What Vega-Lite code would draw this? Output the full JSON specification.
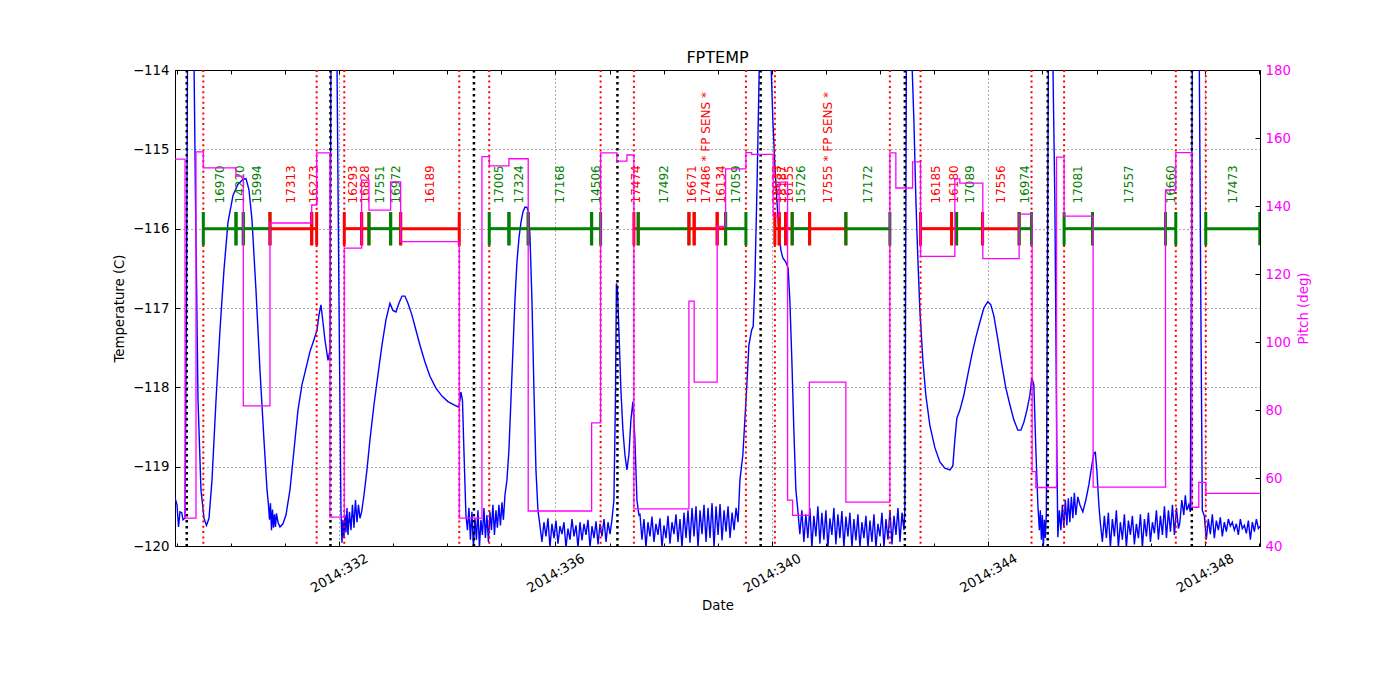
{
  "$schema": "https://vega.github.io/schema/vega-lite/v6.json",
  "width": 1085,
  "height": 476,
  "autosize": {"type": "none"},
  "padding": {"left": 175, "top": 70, "right": 140, "bottom": 154},
  "title": {"text": "FPTEMP", "fontSize": 16, "fontWeight": "normal", "font": "DejaVu Sans", "color": "black", "offset": -3},
  "datasets": {
    "temp": [
      {"t": 328.970, "temp": -119.39}, {"t": 329.007, "temp": -119.48}, {"t": 329.035, "temp": -119.76}, {"t": 329.062, "temp": -119.57},
      {"t": 329.094, "temp": -119.58}, {"t": 329.118, "temp": -119.67}, {"t": 329.155, "temp": -119.65}, {"t": 329.182, "temp": -116.90},
      {"t": 329.201, "temp": -113.87}, {"t": 329.265, "temp": -112.0}, {"t": 329.321, "temp": -113.87}, {"t": 329.349, "temp": -115.64},
      {"t": 329.395, "temp": -118.16}, {"t": 329.450, "temp": -119.29}, {"t": 329.506, "temp": -119.65}, {"t": 329.552, "temp": -119.74},
      {"t": 329.598, "temp": -119.65}, {"t": 329.654, "temp": -119.17}, {"t": 329.728, "temp": -118.16}, {"t": 329.801, "temp": -117.28},
      {"t": 329.875, "temp": -116.52}, {"t": 329.949, "temp": -115.92}, {"t": 330.042, "temp": -115.58}, {"t": 330.134, "temp": -115.44},
      {"t": 330.226, "temp": -115.38}, {"t": 330.282, "temp": -115.37}, {"t": 330.337, "temp": -115.51}, {"t": 330.393, "temp": -115.89},
      {"t": 330.466, "temp": -116.77}, {"t": 330.540, "temp": -117.78}, {"t": 330.614, "temp": -118.66}, {"t": 330.670, "temp": -119.29},
      {"t": 330.697, "temp": -119.48}, {"t": 330.716, "temp": -119.67}, {"t": 330.734, "temp": -119.46}, {"t": 330.753, "temp": -119.80},
      {"t": 330.771, "temp": -119.54}, {"t": 330.790, "temp": -119.77}, {"t": 330.808, "temp": -119.60}, {"t": 330.827, "temp": -119.76},
      {"t": 330.845, "temp": -119.59}, {"t": 330.873, "temp": -119.70}, {"t": 330.910, "temp": -119.76}, {"t": 330.965, "temp": -119.72},
      {"t": 331.021, "temp": -119.61}, {"t": 331.095, "temp": -119.29}, {"t": 331.169, "temp": -118.79}, {"t": 331.242, "temp": -118.29},
      {"t": 331.316, "temp": -117.97}, {"t": 331.390, "temp": -117.76}, {"t": 331.464, "temp": -117.55}, {"t": 331.538, "temp": -117.40},
      {"t": 331.594, "temp": -117.28}, {"t": 331.630, "temp": -117.09}, {"t": 331.667, "temp": -116.96}, {"t": 331.704, "temp": -117.18},
      {"t": 331.741, "temp": -117.40}, {"t": 331.797, "temp": -117.66}, {"t": 331.834, "temp": -117.53}, {"t": 331.852, "temp": -113.87},
      {"t": 331.900, "temp": -112.0}, {"t": 331.963, "temp": -113.87}, {"t": 332.000, "temp": -116.90}, {"t": 332.037, "temp": -119.55},
      {"t": 332.055, "temp": -119.96}, {"t": 332.074, "temp": -119.67}, {"t": 332.092, "temp": -119.90}, {"t": 332.111, "temp": -119.61},
      {"t": 332.129, "temp": -119.83}, {"t": 332.148, "temp": -119.52}, {"t": 332.166, "temp": -119.86}, {"t": 332.194, "temp": -119.57},
      {"t": 332.222, "temp": -119.80}, {"t": 332.249, "temp": -119.48}, {"t": 332.277, "temp": -119.77}, {"t": 332.305, "temp": -119.42},
      {"t": 332.333, "temp": -119.70}, {"t": 332.360, "temp": -119.48}, {"t": 332.388, "temp": -119.65}, {"t": 332.419, "temp": -119.57},
      {"t": 332.462, "temp": -119.36}, {"t": 332.517, "temp": -119.04}, {"t": 332.573, "temp": -118.66}, {"t": 332.647, "temp": -118.22},
      {"t": 332.721, "temp": -117.84}, {"t": 332.794, "temp": -117.47}, {"t": 332.868, "temp": -117.15}, {"t": 332.942, "temp": -116.94},
      {"t": 332.997, "temp": -117.03}, {"t": 333.053, "temp": -117.05}, {"t": 333.108, "temp": -116.94}, {"t": 333.164, "temp": -116.85},
      {"t": 333.219, "temp": -116.85}, {"t": 333.275, "temp": -116.94}, {"t": 333.349, "temp": -117.09}, {"t": 333.423, "temp": -117.28},
      {"t": 333.497, "temp": -117.47}, {"t": 333.589, "temp": -117.68}, {"t": 333.681, "temp": -117.86}, {"t": 333.792, "temp": -118.01},
      {"t": 333.903, "temp": -118.11}, {"t": 334.014, "temp": -118.18}, {"t": 334.125, "temp": -118.22}, {"t": 334.217, "temp": -118.25},
      {"t": 334.254, "temp": -118.06}, {"t": 334.282, "temp": -118.16}, {"t": 334.309, "temp": -118.79}, {"t": 334.346, "temp": -119.61},
      {"t": 334.374, "temp": -119.80}, {"t": 334.402, "temp": -119.52}, {"t": 334.429, "temp": -119.92}, {"t": 334.457, "temp": -119.57},
      {"t": 334.485, "temp": -120.02}, {"t": 334.513, "temp": -119.65}, {"t": 334.540, "temp": -119.92}, {"t": 334.568, "temp": -119.55},
      {"t": 334.596, "temp": -120.02}, {"t": 334.623, "temp": -119.67}, {"t": 334.651, "temp": -119.86}, {"t": 334.679, "temp": -119.52},
      {"t": 334.706, "temp": -119.90}, {"t": 334.734, "temp": -119.61}, {"t": 334.762, "temp": -119.95}, {"t": 334.790, "temp": -119.57},
      {"t": 334.817, "temp": -119.80}, {"t": 334.845, "temp": -119.48}, {"t": 334.873, "temp": -119.86}, {"t": 334.901, "temp": -119.55},
      {"t": 334.928, "temp": -119.77}, {"t": 334.956, "temp": -119.48}, {"t": 334.984, "temp": -119.74}, {"t": 335.012, "temp": -119.45},
      {"t": 335.039, "temp": -119.67}, {"t": 335.067, "temp": -119.36}, {"t": 335.104, "temp": -119.17}, {"t": 335.141, "temp": -118.79},
      {"t": 335.178, "temp": -118.16}, {"t": 335.215, "temp": -117.53}, {"t": 335.252, "temp": -116.90}, {"t": 335.289, "temp": -116.42},
      {"t": 335.326, "temp": -116.12}, {"t": 335.363, "temp": -115.92}, {"t": 335.400, "temp": -115.79}, {"t": 335.436, "temp": -115.73},
      {"t": 335.473, "temp": -115.73}, {"t": 335.501, "temp": -115.79}, {"t": 335.529, "temp": -116.08}, {"t": 335.566, "temp": -116.90},
      {"t": 335.603, "temp": -118.03}, {"t": 335.640, "temp": -119.04}, {"t": 335.677, "temp": -119.55}, {"t": 335.714, "temp": -119.74},
      {"t": 335.751, "temp": -119.95}, {"t": 335.788, "temp": -119.70}, {"t": 335.825, "temp": -119.88}, {"t": 335.862, "temp": -119.65},
      {"t": 335.899, "temp": -120.02}, {"t": 335.936, "temp": -119.72}, {"t": 335.973, "temp": -119.90}, {"t": 336.010, "temp": -119.68},
      {"t": 336.047, "temp": -119.97}, {"t": 336.084, "temp": -119.75}, {"t": 336.121, "temp": -119.85}, {"t": 336.158, "temp": -119.70},
      {"t": 336.195, "temp": -120.02}, {"t": 336.232, "temp": -119.78}, {"t": 336.269, "temp": -119.92}, {"t": 336.306, "temp": -119.66},
      {"t": 336.343, "temp": -119.88}, {"t": 336.380, "temp": -119.74}, {"t": 336.417, "temp": -120.02}, {"t": 336.454, "temp": -119.70},
      {"t": 336.491, "temp": -119.93}, {"t": 336.528, "temp": -119.72}, {"t": 336.565, "temp": -119.86}, {"t": 336.602, "temp": -119.67},
      {"t": 336.639, "temp": -120.02}, {"t": 336.676, "temp": -119.75}, {"t": 336.713, "temp": -119.90}, {"t": 336.750, "temp": -119.69},
      {"t": 336.787, "temp": -119.98}, {"t": 336.824, "temp": -119.72}, {"t": 336.861, "temp": -119.88}, {"t": 336.898, "temp": -119.66},
      {"t": 336.935, "temp": -119.95}, {"t": 336.972, "temp": -119.70}, {"t": 337.009, "temp": -119.85}, {"t": 337.044, "temp": -119.67},
      {"t": 337.081, "temp": -119.42}, {"t": 337.109, "temp": -118.16}, {"t": 337.127, "temp": -116.69}, {"t": 337.145, "temp": -116.75},
      {"t": 337.173, "temp": -117.28}, {"t": 337.210, "temp": -118.03}, {"t": 337.247, "temp": -118.54}, {"t": 337.284, "temp": -118.85},
      {"t": 337.321, "temp": -119.04}, {"t": 337.358, "temp": -118.85}, {"t": 337.395, "temp": -118.41}, {"t": 337.432, "temp": -118.18},
      {"t": 337.469, "temp": -118.66}, {"t": 337.506, "temp": -119.42}, {"t": 337.543, "temp": -119.61},
      {"t": 337.562, "temp": -119.60}, {"t": 337.599, "temp": -119.92}, {"t": 337.636, "temp": -119.66}, {"t": 337.673, "temp": -120.02},
      {"t": 337.710, "temp": -119.70}, {"t": 337.747, "temp": -119.88}, {"t": 337.784, "temp": -119.63}, {"t": 337.821, "temp": -119.95},
      {"t": 337.858, "temp": -119.72}, {"t": 337.895, "temp": -119.86}, {"t": 337.932, "temp": -119.65}, {"t": 337.969, "temp": -120.02},
      {"t": 338.006, "temp": -119.74}, {"t": 338.043, "temp": -119.90}, {"t": 338.080, "temp": -119.62}, {"t": 338.117, "temp": -119.97},
      {"t": 338.154, "temp": -119.70}, {"t": 338.191, "temp": -119.85}, {"t": 338.228, "temp": -119.60}, {"t": 338.265, "temp": -119.95},
      {"t": 338.302, "temp": -119.66}, {"t": 338.339, "temp": -120.02}, {"t": 338.376, "temp": -119.58}, {"t": 338.413, "temp": -119.90},
      {"t": 338.450, "temp": -119.55}, {"t": 338.487, "temp": -119.96}, {"t": 338.524, "temp": -119.52}, {"t": 338.561, "temp": -119.88},
      {"t": 338.598, "temp": -119.50}, {"t": 338.635, "temp": -120.02}, {"t": 338.672, "temp": -119.55}, {"t": 338.709, "temp": -119.85},
      {"t": 338.746, "temp": -119.48}, {"t": 338.783, "temp": -119.95}, {"t": 338.820, "temp": -119.52}, {"t": 338.857, "temp": -119.90},
      {"t": 338.894, "temp": -119.46}, {"t": 338.931, "temp": -120.02}, {"t": 338.968, "temp": -119.50}, {"t": 339.005, "temp": -119.86},
      {"t": 339.042, "temp": -119.47}, {"t": 339.079, "temp": -119.93}, {"t": 339.116, "temp": -119.55}, {"t": 339.153, "temp": -119.82},
      {"t": 339.190, "temp": -119.50}, {"t": 339.227, "temp": -119.90}, {"t": 339.264, "temp": -119.58}, {"t": 339.301, "temp": -119.80},
      {"t": 339.338, "temp": -119.52}, {"t": 339.375, "temp": -119.70},
      {"t": 339.409, "temp": -119.17}, {"t": 339.464, "temp": -118.85}, {"t": 339.533, "temp": -118.02}, {"t": 339.575, "temp": -117.47},
      {"t": 339.625, "temp": -117.28}, {"t": 339.655, "temp": -117.23}, {"t": 339.686, "temp": -116.65}, {"t": 339.718, "temp": -115.69},
      {"t": 339.742, "temp": -114.88}, {"t": 339.769, "temp": -113.87}, {"t": 339.870, "temp": -112.0}, {"t": 339.982, "temp": -113.87},
      {"t": 340.018, "temp": -114.63}, {"t": 340.055, "temp": -115.20}, {"t": 340.092, "temp": -115.64}, {"t": 340.129, "temp": -116.02},
      {"t": 340.166, "temp": -116.27}, {"t": 340.203, "temp": -116.37}, {"t": 340.258, "temp": -116.42}, {"t": 340.300, "temp": -116.50},
      {"t": 340.332, "temp": -116.90}, {"t": 340.369, "temp": -117.66}, {"t": 340.406, "temp": -118.54}, {"t": 340.443, "temp": -119.29},
      {"t": 340.480, "temp": -119.55},
      {"t": 340.517, "temp": -119.85}, {"t": 340.554, "temp": -119.55}, {"t": 340.591, "temp": -119.95}, {"t": 340.628, "temp": -119.60},
      {"t": 340.665, "temp": -119.90}, {"t": 340.702, "temp": -119.52}, {"t": 340.739, "temp": -120.02}, {"t": 340.776, "temp": -119.62},
      {"t": 340.813, "temp": -119.88}, {"t": 340.850, "temp": -119.50}, {"t": 340.887, "temp": -119.97}, {"t": 340.924, "temp": -119.58},
      {"t": 340.961, "temp": -119.92}, {"t": 340.998, "temp": -119.55}, {"t": 341.035, "temp": -120.02}, {"t": 341.072, "temp": -119.65},
      {"t": 341.109, "temp": -119.86}, {"t": 341.146, "temp": -119.52}, {"t": 341.183, "temp": -119.98}, {"t": 341.220, "temp": -119.60},
      {"t": 341.257, "temp": -119.90}, {"t": 341.294, "temp": -119.56}, {"t": 341.331, "temp": -120.02}, {"t": 341.368, "temp": -119.63},
      {"t": 341.405, "temp": -119.88}, {"t": 341.442, "temp": -119.58}, {"t": 341.479, "temp": -120.02}, {"t": 341.516, "temp": -119.66},
      {"t": 341.553, "temp": -119.93}, {"t": 341.590, "temp": -119.60}, {"t": 341.627, "temp": -120.02}, {"t": 341.664, "temp": -119.70},
      {"t": 341.701, "temp": -119.90}, {"t": 341.738, "temp": -119.62}, {"t": 341.775, "temp": -120.02}, {"t": 341.812, "temp": -119.68},
      {"t": 341.849, "temp": -119.95}, {"t": 341.886, "temp": -119.60}, {"t": 341.923, "temp": -120.02}, {"t": 341.960, "temp": -119.72},
      {"t": 341.997, "temp": -119.88}, {"t": 342.034, "temp": -119.58}, {"t": 342.071, "temp": -120.02}, {"t": 342.108, "temp": -119.66},
      {"t": 342.145, "temp": -119.92}, {"t": 342.182, "temp": -119.55}, {"t": 342.219, "temp": -119.98}, {"t": 342.256, "temp": -119.62},
      {"t": 342.293, "temp": -119.86}, {"t": 342.330, "temp": -119.52}, {"t": 342.367, "temp": -119.95}, {"t": 342.404, "temp": -119.58},
      {"t": 342.441, "temp": -119.80},
      {"t": 342.457, "temp": -119.55}, {"t": 342.485, "temp": -113.87}, {"t": 342.530, "temp": -112.0}, {"t": 342.587, "temp": -113.87},
      {"t": 342.624, "temp": -114.63}, {"t": 342.661, "temp": -115.64}, {"t": 342.698, "temp": -116.39}, {"t": 342.735, "temp": -117.03},
      {"t": 342.790, "temp": -117.66}, {"t": 342.845, "temp": -118.10}, {"t": 342.919, "temp": -118.48}, {"t": 343.012, "temp": -118.76},
      {"t": 343.104, "temp": -118.94}, {"t": 343.196, "temp": -119.02}, {"t": 343.289, "temp": -119.04}, {"t": 343.344, "temp": -118.99},
      {"t": 343.381, "temp": -118.66}, {"t": 343.418, "temp": -118.39}, {"t": 343.473, "temp": -118.29}, {"t": 343.547, "temp": -118.10},
      {"t": 343.621, "temp": -117.84}, {"t": 343.695, "temp": -117.59}, {"t": 343.769, "temp": -117.37}, {"t": 343.843, "temp": -117.18},
      {"t": 343.917, "temp": -117.00}, {"t": 343.991, "temp": -116.92}, {"t": 344.046, "temp": -116.96}, {"t": 344.102, "temp": -117.10},
      {"t": 344.176, "temp": -117.40}, {"t": 344.250, "temp": -117.72}, {"t": 344.324, "temp": -118.01}, {"t": 344.398, "temp": -118.22},
      {"t": 344.471, "temp": -118.41}, {"t": 344.545, "temp": -118.54}, {"t": 344.601, "temp": -118.54}, {"t": 344.656, "temp": -118.44},
      {"t": 344.712, "temp": -118.29}, {"t": 344.767, "temp": -118.10}, {"t": 344.804, "temp": -117.88}, {"t": 344.841, "temp": -117.97},
      {"t": 344.878, "temp": -118.79}, {"t": 344.915, "temp": -119.48}, {"t": 344.943, "temp": -119.80}, {"t": 344.961, "temp": -119.55},
      {"t": 344.980, "temp": -119.92}, {"t": 344.998, "temp": -119.61}, {"t": 345.017, "temp": -120.02}, {"t": 345.035, "temp": -119.67},
      {"t": 345.054, "temp": -119.90}, {"t": 345.072, "temp": -119.57}, {"t": 345.090, "temp": -116.90}, {"t": 345.109, "temp": -113.87},
      {"t": 345.150, "temp": -112.0}, {"t": 345.192, "temp": -113.87}, {"t": 345.229, "temp": -115.64}, {"t": 345.266, "temp": -118.79},
      {"t": 345.284, "temp": -119.89}, {"t": 345.312, "temp": -119.55}, {"t": 345.340, "temp": -119.80}, {"t": 345.368, "temp": -119.48},
      {"t": 345.395, "temp": -119.77}, {"t": 345.423, "temp": -119.42}, {"t": 345.451, "temp": -119.74}, {"t": 345.478, "temp": -119.40},
      {"t": 345.506, "temp": -119.70}, {"t": 345.534, "temp": -119.38}, {"t": 345.562, "temp": -119.65}, {"t": 345.589, "temp": -119.33},
      {"t": 345.617, "temp": -119.61}, {"t": 345.654, "temp": -119.38}, {"t": 345.691, "temp": -119.48}, {"t": 345.746, "temp": -119.57},
      {"t": 345.802, "temp": -119.42}, {"t": 345.857, "temp": -119.23}, {"t": 345.913, "temp": -118.98}, {"t": 345.950, "temp": -118.83},
      {"t": 345.977, "temp": -118.82}, {"t": 346.005, "temp": -119.04}, {"t": 346.042, "temp": -119.48}, {"t": 346.070, "temp": -119.71},
      {"t": 346.107, "temp": -119.95}, {"t": 346.144, "temp": -119.62}, {"t": 346.181, "temp": -119.90}, {"t": 346.218, "temp": -119.58},
      {"t": 346.255, "temp": -120.02}, {"t": 346.292, "temp": -119.66}, {"t": 346.329, "temp": -119.88}, {"t": 346.366, "temp": -119.55},
      {"t": 346.403, "temp": -120.02}, {"t": 346.440, "temp": -119.70}, {"t": 346.477, "temp": -119.92}, {"t": 346.514, "temp": -119.60},
      {"t": 346.551, "temp": -120.02}, {"t": 346.588, "temp": -119.68}, {"t": 346.625, "temp": -119.86}, {"t": 346.662, "temp": -119.62},
      {"t": 346.699, "temp": -119.98}, {"t": 346.736, "temp": -119.72}, {"t": 346.773, "temp": -119.90}, {"t": 346.810, "temp": -119.60},
      {"t": 346.847, "temp": -120.02}, {"t": 346.884, "temp": -119.66}, {"t": 346.921, "temp": -119.88}, {"t": 346.958, "temp": -119.58},
      {"t": 346.995, "temp": -119.95}, {"t": 347.032, "temp": -119.70}, {"t": 347.069, "temp": -119.84}, {"t": 347.106, "temp": -119.55},
      {"t": 347.143, "temp": -119.92}, {"t": 347.180, "temp": -119.62}, {"t": 347.217, "temp": -119.86}, {"t": 347.254, "temp": -119.50},
      {"t": 347.291, "temp": -119.90}, {"t": 347.328, "temp": -119.55}, {"t": 347.365, "temp": -119.82}, {"t": 347.402, "temp": -119.48},
      {"t": 347.439, "temp": -119.86}, {"t": 347.476, "temp": -119.52}, {"t": 347.513, "temp": -119.78},
      {"t": 347.538, "temp": -119.71}, {"t": 347.575, "temp": -119.42}, {"t": 347.612, "temp": -119.61}, {"t": 347.640, "temp": -119.36},
      {"t": 347.667, "temp": -119.55}, {"t": 347.704, "temp": -119.48}, {"t": 347.732, "temp": -119.57}, {"t": 347.751, "temp": -116.90},
      {"t": 347.769, "temp": -113.87}, {"t": 347.834, "temp": -112.0}, {"t": 347.898, "temp": -113.87}, {"t": 347.926, "temp": -116.90},
      {"t": 347.954, "temp": -119.55},
      {"t": 347.991, "temp": -119.62}, {"t": 348.028, "temp": -119.92}, {"t": 348.065, "temp": -119.66}, {"t": 348.102, "temp": -119.85},
      {"t": 348.139, "temp": -119.60}, {"t": 348.176, "temp": -119.90}, {"t": 348.213, "temp": -119.68}, {"t": 348.250, "temp": -119.80},
      {"t": 348.287, "temp": -119.64}, {"t": 348.324, "temp": -119.88}, {"t": 348.361, "temp": -119.70}, {"t": 348.398, "temp": -119.82},
      {"t": 348.435, "temp": -119.66}, {"t": 348.472, "temp": -119.75}, {"t": 348.509, "temp": -119.70}, {"t": 348.546, "temp": -119.80},
      {"t": 348.583, "temp": -119.72}, {"t": 348.620, "temp": -119.86}, {"t": 348.657, "temp": -119.66}, {"t": 348.694, "temp": -119.78},
      {"t": 348.731, "temp": -119.74}, {"t": 348.768, "temp": -119.84}, {"t": 348.805, "temp": -119.68}, {"t": 348.842, "temp": -119.92},
      {"t": 348.879, "temp": -119.70}, {"t": 348.916, "temp": -119.82}, {"t": 348.953, "temp": -119.66}, {"t": 348.990, "temp": -119.78},
      {"t": 349.020, "temp": -119.75}
    ],
    "pitch": [
      {"t": 328.970, "pitch": 153.8}, {"t": 329.155, "pitch": 48.2}, {"t": 329.358, "pitch": 155.9}, {"t": 329.493, "pitch": 151.2},
      {"t": 330.097, "pitch": 148.8}, {"t": 330.232, "pitch": 81.2}, {"t": 330.725, "pitch": 135.0}, {"t": 331.496, "pitch": 140.3},
      {"t": 331.588, "pitch": 155.6}, {"t": 331.834, "pitch": 48.5}, {"t": 332.098, "pitch": 127.6}, {"t": 332.419, "pitch": 147.6},
      {"t": 332.554, "pitch": 138.8}, {"t": 332.955, "pitch": 147.1}, {"t": 333.140, "pitch": 129.5}, {"t": 334.223, "pitch": 48.2},
      {"t": 334.642, "pitch": 154.5}, {"t": 334.777, "pitch": 151.8}, {"t": 335.141, "pitch": 153.9}, {"t": 335.497, "pitch": 50.3},
      {"t": 336.669, "pitch": 76.2}, {"t": 336.835, "pitch": 155.6}, {"t": 337.136, "pitch": 153.2}, {"t": 337.321, "pitch": 155.0},
      {"t": 337.450, "pitch": 50.9}, {"t": 338.467, "pitch": 112.0}, {"t": 338.564, "pitch": 88.2}, {"t": 338.989, "pitch": 134.0},
      {"t": 339.145, "pitch": 150.9}, {"t": 339.520, "pitch": 155.7}, {"t": 339.625, "pitch": 155.2}, {"t": 340.024, "pitch": 137.0},
      {"t": 340.135, "pitch": 147.0}, {"t": 340.290, "pitch": 53.5}, {"t": 340.383, "pitch": 49.0}, {"t": 340.693, "pitch": 88.2},
      {"t": 341.367, "pitch": 52.9}, {"t": 342.180, "pitch": 155.6}, {"t": 342.291, "pitch": 145.3}, {"t": 342.600, "pitch": 153.0},
      {"t": 342.747, "pitch": 125.2}, {"t": 343.381, "pitch": 148.0}, {"t": 343.473, "pitch": 146.7}, {"t": 343.898, "pitch": 124.5},
      {"t": 344.569, "pitch": 137.6}, {"t": 344.809, "pitch": 61.9}, {"t": 344.878, "pitch": 57.2}, {"t": 345.260, "pitch": 154.4},
      {"t": 345.400, "pitch": 137.0}, {"t": 345.936, "pitch": 57.3}, {"t": 347.274, "pitch": 144.7}, {"t": 347.464, "pitch": 155.7},
      {"t": 347.760, "pitch": 51.4}, {"t": 347.889, "pitch": 58.7}, {"t": 348.018, "pitch": 55.5}, {"t": 349.020, "pitch": 55.5}
    ],
    "obsids": [
      {"start": 329.493, "end": 330.097, "obsid": "16970", "status": "ok"},
      {"start": 330.097, "end": 330.232, "obsid": "14220", "status": "ok"},
      {"start": 330.232, "end": 330.725, "obsid": "15994", "status": "ok"},
      {"start": 330.725, "end": 331.496, "obsid": "17313", "status": "hot"},
      {"start": 331.496, "end": 331.588, "obsid": "16273", "status": "hot"},
      {"start": 332.098, "end": 332.419, "obsid": "16293", "status": "hot"},
      {"start": 332.419, "end": 332.554, "obsid": "16828", "status": "hot"},
      {"start": 332.554, "end": 332.955, "obsid": "17551", "status": "ok"},
      {"start": 332.955, "end": 333.140, "obsid": "16972", "status": "ok"},
      {"start": 333.140, "end": 334.223, "obsid": "16189", "status": "hot"},
      {"start": 334.777, "end": 335.141, "obsid": "17005", "status": "ok"},
      {"start": 335.141, "end": 335.497, "obsid": "17324", "status": "ok"},
      {"start": 335.497, "end": 336.669, "obsid": "17168", "status": "ok"},
      {"start": 336.669, "end": 336.835, "obsid": "14506", "status": "ok"},
      {"start": 337.450, "end": 337.530, "obsid": "17474", "status": "hot"},
      {"start": 337.530, "end": 338.467, "obsid": "17492", "status": "ok"},
      {"start": 338.467, "end": 338.564, "obsid": "16671", "status": "hot"},
      {"start": 338.564, "end": 338.989, "obsid": "17486 * FP SENS *", "status": "hot"},
      {"start": 338.989, "end": 339.145, "obsid": "16134", "status": "hot"},
      {"start": 339.145, "end": 339.520, "obsid": "17059", "status": "ok"},
      {"start": 340.055, "end": 340.135, "obsid": "18033", "status": "hot"},
      {"start": 340.135, "end": 340.253, "obsid": "18187", "status": "hot"},
      {"start": 340.253, "end": 340.375, "obsid": "16155", "status": "hot"},
      {"start": 340.375, "end": 340.697, "obsid": "15726", "status": "ok"},
      {"start": 340.697, "end": 341.367, "obsid": "17555 * FP SENS *", "status": "hot"},
      {"start": 341.367, "end": 342.180, "obsid": "17172", "status": "ok"},
      {"start": 342.747, "end": 343.320, "obsid": "16185", "status": "hot"},
      {"start": 343.320, "end": 343.413, "obsid": "16180", "status": "hot"},
      {"start": 343.413, "end": 343.893, "obsid": "17089", "status": "ok"},
      {"start": 343.893, "end": 344.569, "obsid": "17556", "status": "hot"},
      {"start": 344.569, "end": 344.798, "obsid": "16974", "status": "ok"},
      {"start": 345.400, "end": 345.925, "obsid": "17081", "status": "ok"},
      {"start": 345.925, "end": 347.274, "obsid": "17557", "status": "ok"},
      {"start": 347.274, "end": 347.464, "obsid": "16660", "status": "ok"},
      {"start": 348.018, "end": 349.016, "obsid": "17473", "status": "ok"}
    ],
    "events": [
      {"t": 329.493, "kind": "comm"}, {"t": 331.588, "kind": "comm"}, {"t": 332.098, "kind": "comm"}, {"t": 334.223, "kind": "comm"},
      {"t": 334.777, "kind": "comm"}, {"t": 336.835, "kind": "comm"}, {"t": 337.450, "kind": "comm"}, {"t": 339.520, "kind": "comm"},
      {"t": 340.055, "kind": "comm"}, {"t": 342.180, "kind": "comm"}, {"t": 342.747, "kind": "comm"}, {"t": 344.798, "kind": "comm"},
      {"t": 345.400, "kind": "comm"}, {"t": 347.464, "kind": "comm"}, {"t": 348.018, "kind": "comm"},
      {"t": 329.187, "kind": "perigee"}, {"t": 331.843, "kind": "perigee"}, {"t": 334.494, "kind": "perigee"}, {"t": 337.146, "kind": "perigee"},
      {"t": 339.792, "kind": "perigee"}, {"t": 342.457, "kind": "perigee"}, {"t": 345.097, "kind": "perigee"}, {"t": 347.760, "kind": "perigee"}
    ]
  },
  "layer": [
    {
      "layer": [
        {
          "data": {"name": "temp"},
          "mark": {"type": "line", "color": "#0000ff", "strokeWidth": 1.4, "clip": true},
          "encoding": {
            "x": {
              "field": "t", "type": "quantitative",
              "scale": {"domain": [328.97, 349.02], "nice": false, "zero": false},
              "axis": {
                "orient": "bottom", "values": [332, 336, 340, 344, 348], "labelExpr": "'2014:' + datum.value",
                "labelAngle": -30, "labelAlign": "center", "labelBaseline": "middle", "labelPadding": 32,
                "tickSize": -5, "grid": true, "domain": false, "title": "Date",
                "titleBaseline": "alphabetic", "titleY": 63
              }
            },
            "y": {
              "field": "temp", "type": "quantitative",
              "scale": {"domain": [-120, -114], "nice": false, "zero": false},
              "axis": {
                "orient": "left", "values": [-120, -119, -118, -117, -116, -115, -114], "tickSize": -5, "labelPadding": 11,
                "grid": true, "domain": false, "title": "Temperature (C)",
                "titleAngle": 270, "titleBaseline": "middle", "titleX": -56, "titleY": 238
              }
            }
          }
        },
        {
          "data": {"name": "events"},
          "transform": [{"filter": "datum.kind === 'comm'"}],
          "mark": {"type": "rule", "color": "#ff0000", "strokeWidth": 2, "strokeDash": [2, 3.3]},
          "encoding": {
            "x": {
              "field": "t", "type": "quantitative",
              "scale": {"domain": [328.97, 349.02], "nice": false, "zero": false},
              "axis": {
                "orient": "top", "values": [329, 330, 331, 332, 333, 334, 335, 336, 337, 338, 339, 340, 341, 342, 343, 344, 345, 346, 347, 348, 349],
                "labels": false, "tickSize": -4, "grid": false, "domain": false, "title": null
              }
            }
          }
        },
        {
          "data": {"name": "events"},
          "transform": [{"filter": "datum.kind === 'perigee'"}],
          "mark": {"type": "rule", "color": "#000000", "strokeWidth": 2.5, "strokeDash": [2.5, 3.5]},
          "encoding": {
            "x": {
              "field": "t", "type": "quantitative",
              "scale": {"domain": [328.97, 349.02], "nice": false, "zero": false},
              "axis": {
                "orient": "bottom", "values": [329, 330, 331, 333, 334, 335, 337, 338, 339, 341, 342, 343, 345, 346, 347, 349],
                "labels": false, "tickSize": -3, "grid": false, "domain": false, "title": null
              }
            }
          }
        },
        {
          "mark": {"type": "rule", "color": "#ff0000", "strokeWidth": 3, "strokeDash": [11, 5]},
          "encoding": {"y": {"datum": -118.7, "type": "quantitative", "axis": null}}
        },
        {
          "data": {"name": "obsids"},
          "mark": {"type": "rule", "strokeWidth": 3, "clip": true},
          "encoding": {
            "x": {"field": "start", "type": "quantitative", "scale": {"domain": [328.97, 349.02], "nice": false, "zero": false}, "axis": null},
            "x2": {"field": "end"},
            "y": {"datum": -116, "type": "quantitative", "axis": null},
            "color": {"field": "status", "type": "nominal", "scale": {"domain": ["ok", "hot"], "range": ["#008000", "#ff0000"]}, "legend": null}
          }
        },
        {
          "data": {"name": "obsids"},
          "mark": {"type": "rule", "strokeWidth": 3, "clip": true},
          "encoding": {
            "x": {"field": "end", "type": "quantitative", "scale": {"domain": [328.97, 349.02], "nice": false, "zero": false}, "axis": null},
            "y": {"datum": -115.79, "type": "quantitative", "axis": null},
            "y2": {"datum": -116.21},
            "color": {"field": "status", "type": "nominal", "scale": {"domain": ["ok", "hot"], "range": ["#008000", "#ff0000"]}, "legend": null}
          }
        },
        {
          "data": {"name": "obsids"},
          "mark": {"type": "rule", "strokeWidth": 3, "clip": true},
          "encoding": {
            "x": {"field": "start", "type": "quantitative", "scale": {"domain": [328.97, 349.02], "nice": false, "zero": false}, "axis": null},
            "y": {"datum": -115.79, "type": "quantitative", "axis": null},
            "y2": {"datum": -116.21},
            "color": {"field": "status", "type": "nominal", "scale": {"domain": ["ok", "hot"], "range": ["#008000", "#ff0000"]}, "legend": null}
          }
        },
        {
          "data": {"name": "obsids"},
          "transform": [{"calculate": "(datum.start + datum.end) / 2", "as": "mid"}],
          "mark": {"type": "text", "angle": 270, "align": "left", "baseline": "middle", "dx": 3, "fontSize": 12, "font": "DejaVu Sans"},
          "encoding": {
            "x": {"field": "mid", "type": "quantitative", "scale": {"domain": [328.97, 349.02], "nice": false, "zero": false}, "axis": null},
            "y": {"datum": -115.72, "type": "quantitative", "axis": null},
            "text": {"field": "obsid"},
            "color": {"field": "status", "type": "nominal", "scale": {"domain": ["ok", "hot"], "range": ["#008000", "#ff0000"]}, "legend": null}
          }
        }
      ],
      "resolve": {"axis": {"x": "independent", "y": "independent"}}
    },
    {
      "data": {"name": "pitch"},
      "mark": {"type": "line", "interpolate": "step-after", "color": "#ff00ff", "strokeWidth": 1.3, "clip": true},
      "encoding": {
        "x": {"field": "t", "type": "quantitative", "scale": {"domain": [328.97, 349.02], "nice": false, "zero": false}, "axis": null},
        "y": {
          "field": "pitch", "type": "quantitative",
          "scale": {"domain": [40, 180], "nice": false, "zero": false},
          "axis": {
            "orient": "right", "values": [40, 60, 80, 100, 120, 140, 160, 180], "tickSize": -5, "labelPadding": 10,
            "labelColor": "#ff00ff", "grid": false, "domain": false, "title": "Pitch (deg)", "titleColor": "#ff00ff",
            "titleAngle": 270, "titleBaseline": "middle", "titleX": 43, "titleY": 238
          }
        }
      }
    }
  ],
  "resolve": {"scale": {"y": "independent"}, "axis": {"x": "independent", "y": "independent"}},
  "config": {
    "font": "DejaVu Sans",
    "view": {"stroke": "#000000", "strokeWidth": 1},
    "axis": {
      "labelFont": "DejaVu Sans", "titleFont": "DejaVu Sans", "labelFontSize": 13.3, "titleFontSize": 13.3,
      "titleFontWeight": "normal", "labelColor": "#000000", "titleColor": "#000000", "tickColor": "#000000",
      "gridColor": "#000000", "gridDash": [1, 3], "gridWidth": 0.8, "gridOpacity": 0.8, "labelFlush": false, "labelOverlap": false
    }
  }
}
